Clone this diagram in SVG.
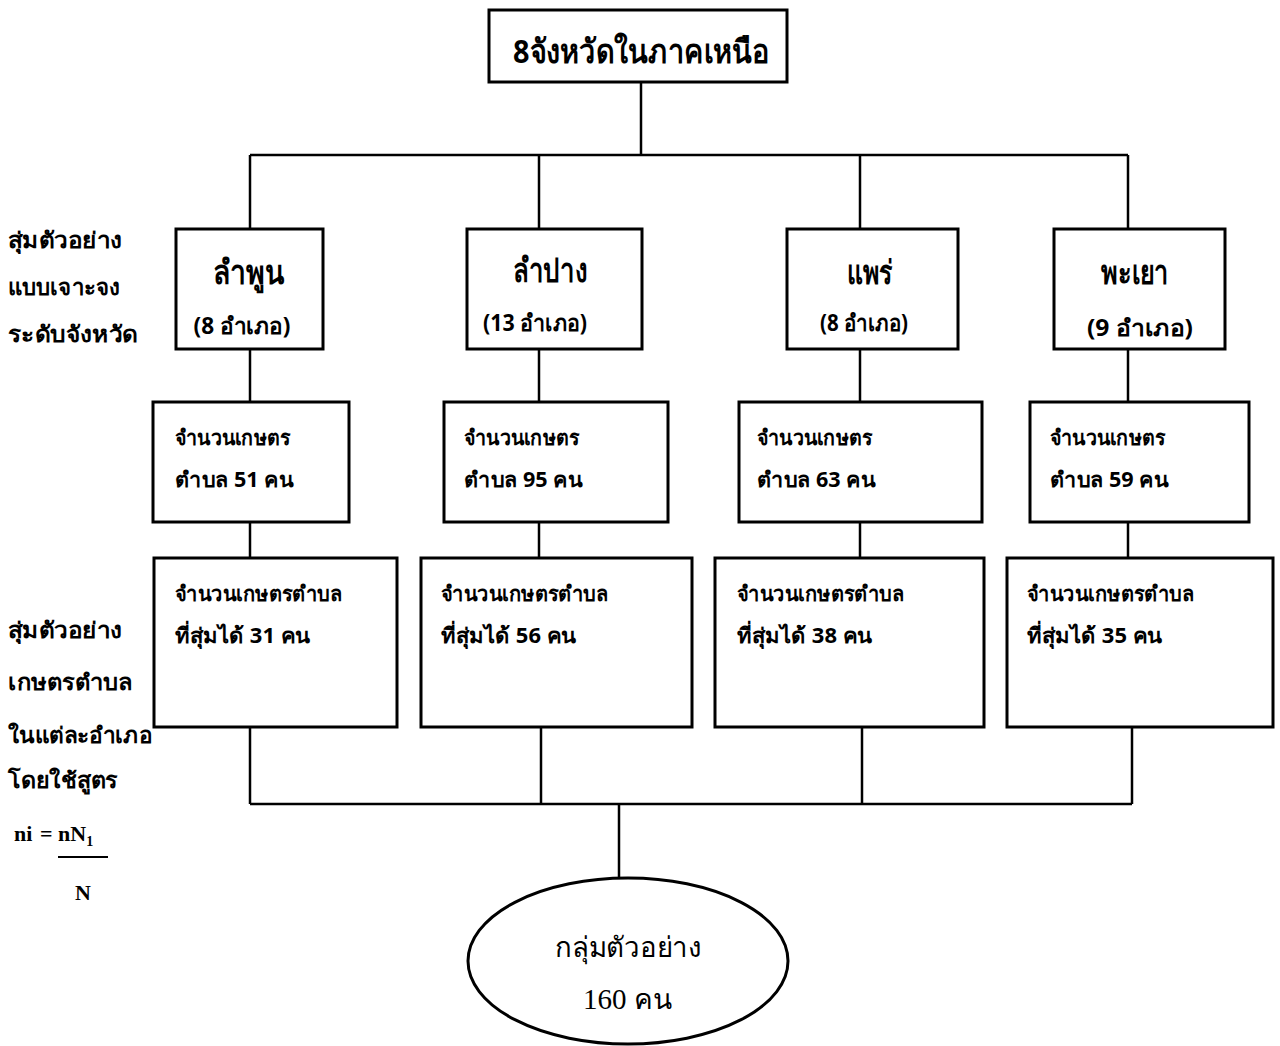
<svg xmlns="http://www.w3.org/2000/svg" width="1280" height="1046" viewBox="0 0 1280 1046">
<style>
.box{fill:#fff;stroke:#000;stroke-width:3}
.ln{stroke:#000;stroke-width:2.5;fill:none}
.th{font-family:"Noto Sans","DejaVu Sans",sans-serif;fill:#000;font-weight:bold}
.t1{font-size:33px;text-anchor:middle}
.t2{font-size:23px;text-anchor:middle}
.t3{font-size:21px}
.lab{font-size:22px}
.ser{font-family:"Liberation Serif",serif;font-weight:bold;font-size:22px;fill:#000}
</style>
<rect width="1280" height="1046" fill="#fff"/>
<g id="connectors">
<line class="ln" x1="641" y1="82" x2="641" y2="155"/>
<line class="ln" x1="250" y1="155" x2="1128" y2="155"/>
<line class="ln" x1="250" y1="155" x2="250" y2="229"/>
<line class="ln" x1="539" y1="155" x2="539" y2="229"/>
<line class="ln" x1="860" y1="155" x2="860" y2="229"/>
<line class="ln" x1="1128" y1="155" x2="1128" y2="229"/>
<line class="ln" x1="250" y1="349" x2="250" y2="402"/>
<line class="ln" x1="539" y1="349" x2="539" y2="402"/>
<line class="ln" x1="860" y1="349" x2="860" y2="402"/>
<line class="ln" x1="1128" y1="349" x2="1128" y2="402"/>
<line class="ln" x1="250" y1="522" x2="250" y2="558"/>
<line class="ln" x1="539" y1="522" x2="539" y2="558"/>
<line class="ln" x1="860" y1="522" x2="860" y2="558"/>
<line class="ln" x1="1128" y1="522" x2="1128" y2="558"/>
<line class="ln" x1="250" y1="727" x2="250" y2="804"/>
<line class="ln" x1="541" y1="727" x2="541" y2="804"/>
<line class="ln" x1="862" y1="727" x2="862" y2="804"/>
<line class="ln" x1="1132" y1="727" x2="1132" y2="804"/>
<line class="ln" x1="250" y1="804" x2="1132" y2="804"/>
<line class="ln" x1="619" y1="804" x2="619" y2="877"/>
</g>
<g id="top">
<rect class="box" x="489" y="10" width="298" height="72"/>
<text class="th" x="513" y="63" font-size="33" textLength="257" lengthAdjust="spacingAndGlyphs">8จังหวัดในภาคเหนือ</text>
</g>
<g id="labels-1">
<text class="th lab" x="8" y="248" textLength="114" lengthAdjust="spacingAndGlyphs">สุ่มตัวอย่าง</text>
<text class="th lab" x="8" y="295" textLength="112" lengthAdjust="spacingAndGlyphs">แบบเจาะจง</text>
<text class="th lab" x="8" y="342" textLength="130" lengthAdjust="spacingAndGlyphs">ระดับจังหวัด</text>
</g>
<g id="labels-2">
<text class="th lab" x="8" y="638" textLength="114" lengthAdjust="spacingAndGlyphs">สุ่มตัวอย่าง</text>
<text class="th lab" x="8" y="690" textLength="124" lengthAdjust="spacingAndGlyphs">เกษตรตำบล</text>
<text class="th lab" x="8" y="743" textLength="144" lengthAdjust="spacingAndGlyphs">ในแต่ละอำเภอ</text>
<text class="th lab" x="8" y="788" textLength="110" lengthAdjust="spacingAndGlyphs">โดยใช้สูตร</text>
<text class="ser" x="14" y="841">ni</text>
<text class="ser" x="40" y="841">=</text>
<text class="ser" x="58" y="841">nN<tspan font-size="14" dy="5">1</tspan></text>
<line x1="58" y1="857" x2="108" y2="857" stroke="#000" stroke-width="2"/>
<text class="ser" x="75" y="900">N</text>
</g>
<g id="lamphun">
<rect class="box" x="176" y="229" width="147" height="120"/>
<text class="th t1" x="249" y="284" textLength="72" lengthAdjust="spacingAndGlyphs">ลำพูน</text>
<text class="th t2" x="242" y="334" textLength="97" lengthAdjust="spacingAndGlyphs">(8 อำเภอ)</text>
</g>
<g id="lampang">
<rect class="box" x="467" y="229" width="175" height="120"/>
<text class="th t1" x="550" y="282" textLength="74" lengthAdjust="spacingAndGlyphs">ลำปาง</text>
<text class="th t2" x="535" y="331" textLength="104" lengthAdjust="spacingAndGlyphs">(13 อำเภอ)</text>
</g>
<g id="phrae">
<rect class="box" x="787" y="229" width="171" height="120"/>
<text class="th t1" x="870" y="284" textLength="46" lengthAdjust="spacingAndGlyphs">แพร่</text>
<text class="th t2" x="864" y="331" textLength="88" lengthAdjust="spacingAndGlyphs">(8 อำเภอ)</text>
</g>
<g id="phayao">
<rect class="box" x="1054" y="229" width="171" height="120"/>
<text class="th t1" x="1135" y="284" textLength="68" lengthAdjust="spacingAndGlyphs">พะเยา</text>
<text class="th t2" x="1140" y="336" textLength="106" lengthAdjust="spacingAndGlyphs">(9 อำเภอ)</text>
</g>
<g id="lamphun-pop">
<rect class="box" x="153" y="402" width="196" height="120"/>
<text class="th t3" x="175" y="445" textLength="115" lengthAdjust="spacingAndGlyphs">จำนวนเกษตร</text>
<text class="th t3" x="175" y="487" textLength="118" lengthAdjust="spacingAndGlyphs">ตำบล 51 คน</text>
</g>
<g id="lampang-pop">
<rect class="box" x="444" y="402" width="224" height="120"/>
<text class="th t3" x="464" y="445" textLength="115" lengthAdjust="spacingAndGlyphs">จำนวนเกษตร</text>
<text class="th t3" x="464" y="487" textLength="118" lengthAdjust="spacingAndGlyphs">ตำบล 95 คน</text>
</g>
<g id="phrae-pop">
<rect class="box" x="739" y="402" width="243" height="120"/>
<text class="th t3" x="757" y="445" textLength="115" lengthAdjust="spacingAndGlyphs">จำนวนเกษตร</text>
<text class="th t3" x="757" y="487" textLength="118" lengthAdjust="spacingAndGlyphs">ตำบล 63 คน</text>
</g>
<g id="phayao-pop">
<rect class="box" x="1030" y="402" width="219" height="120"/>
<text class="th t3" x="1050" y="445" textLength="115" lengthAdjust="spacingAndGlyphs">จำนวนเกษตร</text>
<text class="th t3" x="1050" y="487" textLength="118" lengthAdjust="spacingAndGlyphs">ตำบล 59 คน</text>
</g>
<g id="lamphun-sample">
<rect class="box" x="154" y="558" width="243" height="169"/>
<text class="th t3" x="175" y="601" textLength="167" lengthAdjust="spacingAndGlyphs">จำนวนเกษตรตำบล</text>
<text class="th t3" x="175" y="643" textLength="135" lengthAdjust="spacingAndGlyphs">ที่สุ่มได้ 31 คน</text>
</g>
<g id="lampang-sample">
<rect class="box" x="421" y="558" width="271" height="169"/>
<text class="th t3" x="441" y="601" textLength="167" lengthAdjust="spacingAndGlyphs">จำนวนเกษตรตำบล</text>
<text class="th t3" x="441" y="643" textLength="135" lengthAdjust="spacingAndGlyphs">ที่สุ่มได้ 56 คน</text>
</g>
<g id="phrae-sample">
<rect class="box" x="715" y="558" width="269" height="169"/>
<text class="th t3" x="737" y="601" textLength="167" lengthAdjust="spacingAndGlyphs">จำนวนเกษตรตำบล</text>
<text class="th t3" x="737" y="643" textLength="135" lengthAdjust="spacingAndGlyphs">ที่สุ่มได้ 38 คน</text>
</g>
<g id="phayao-sample">
<rect class="box" x="1007" y="558" width="266" height="169"/>
<text class="th t3" x="1027" y="601" textLength="167" lengthAdjust="spacingAndGlyphs">จำนวนเกษตรตำบล</text>
<text class="th t3" x="1027" y="643" textLength="135" lengthAdjust="spacingAndGlyphs">ที่สุ่มได้ 35 คน</text>
</g>
<g id="total">
<ellipse class="box" cx="628" cy="961" rx="160" ry="83"/>
<text x="555" y="957" font-family="Noto Sans,sans-serif" font-size="28" textLength="147" lengthAdjust="spacingAndGlyphs">กลุ่มตัวอย่าง</text>
<text x="583" y="1009" font-family="Liberation Serif,serif" font-size="29">160 <tspan font-family="Noto Sans,sans-serif" font-size="28">คน</tspan></text>
</g>
</svg>
